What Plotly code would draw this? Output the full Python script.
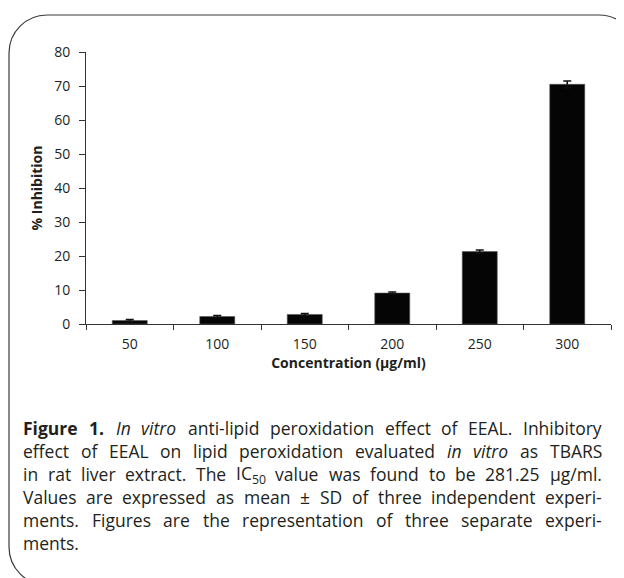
import re
import plotly.graph_objects as go

# ---- data ----
concentrations = ["50", "100", "150", "200", "250", "300"]
inhibition = [1.0, 2.2, 2.8, 9.1, 21.3, 70.5]
sd = [0.3, 0.3, 0.3, 0.3, 0.5, 1.0]
y_ticks = [0, 10, 20, 30, 40, 50, 60, 70, 80]

caption_lines = [
    "<b>Figure</b> <b>1.</b> <i>In</i> <i>vitro</i> anti-lipid peroxidation effect of EEAL. Inhibitory",
    "effect of EEAL on lipid peroxidation evaluated <i>in</i> <i>vitro</i> as TBARS",
    "in rat liver extract. The IC<sub>50</sub> value was found to be 281.25 µg/ml.",
    "Values are expressed as mean ± SD of three independent experi-",
    "ments. Figures are the representation of three separate experi-",
    "ments.",
]

# page body has an 8px margin -> work in figure coordinates (screen - 8)
OFF = 8
W, H = 624 - OFF, 578 - OFF
L, R, T, B = 86 - OFF, 611 - OFF, 52 - OFF, 324 - OFF
FONT = "Open Sans"
CAP_SIZE = 17.5


def px(x):
    return (x - OFF - L) / (R - L)


def py(y):
    return (B - (y - OFF)) / (B - T)


# approximate Open Sans advance widths (units of 1/2048 em)
ADV = {
    " ": 532, "a": 1139, "b": 1255, "c": 975, "d": 1255, "e": 1149, "f": 694,
    "g": 1122, "h": 1257, "i": 518, "j": 518, "k": 1075, "l": 518, "m": 1905,
    "n": 1257, "o": 1237, "p": 1255, "q": 1255, "r": 836, "s": 977, "t": 723,
    "u": 1257, "v": 1026, "w": 1593, "x": 1073, "y": 1028, "z": 977,
    "A": 1296, "B": 1327, "C": 1292, "D": 1493, "E": 1139, "F": 1057,
    "G": 1491, "H": 1511, "I": 571, "J": 547, "K": 1257, "L": 1063,
    "M": 1849, "N": 1544, "O": 1595, "P": 1233, "Q": 1595, "R": 1266,
    "S": 1104, "T": 1118, "U": 1505, "V": 1200, "W": 1864, "X": 1184,
    "Y": 1145, "Z": 1139, ".": 545, ",": 500, "-": 659, "/": 752,
    "±": 1171, "µ": 1266, "(": 608, ")": 608,
}


def plain_width(s, size):
    return sum(ADV.get(ch, 1171) for ch in s) / 2048 * size


def word_width(word, size):
    bold = "<b>" in word
    italic = "<i>" in word
    w = 0.0
    for part in re.split(r"(<sub>.*?</sub>)", word):
        if part.startswith("<sub>"):
            w += plain_width(re.sub(r"<[^>]+>", "", part), size * 0.7)
        else:
            w += plain_width(re.sub(r"<[^>]+>", "", part), size)
    if bold:
        w *= 1.09
    if italic:
        w *= 0.96
    return w


fig = go.Figure()
fig.add_trace(go.Bar(
    x=concentrations, y=inhibition,
    marker=dict(color="#050505", line=dict(color="#555555", width=0.6)),
    error_y=dict(type="data", array=sd, visible=True, color="#111111",
                 thickness=1.5, width=4),
    width=0.4,
))

# rounded frame (screen coordinates)
x0, y0, x1, y1, r = 9, 15, 637, 585, 38
k = 0.5523 * r
pts = [
    f"M {px(x0)},{py(y0 + r)}",
    f"C {px(x0)},{py(y0 + r - k)} {px(x0 + r - k)},{py(y0)} {px(x0 + r)},{py(y0)}",
    f"L {px(x1 - r)},{py(y0)}",
    f"C {px(x1 - r + k)},{py(y0)} {px(x1)},{py(y0 + r - k)} {px(x1)},{py(y0 + r)}",
    f"L {px(x1)},{py(y1 - r)}",
    f"C {px(x1)},{py(y1 - r + k)} {px(x1 - r + k)},{py(y1)} {px(x1 - r)},{py(y1)}",
    f"L {px(x0 + r)},{py(y1)}",
    f"C {px(x0 + r - k)},{py(y1)} {px(x0)},{py(y1 - r + k)} {px(x0)},{py(y1 - r)}",
    "Z",
]
fig.add_shape(type="path", xref="paper", yref="paper", path=" ".join(pts),
              line=dict(color="#3a3a3a", width=1.2), layer="below")

# caption, justified word by word
cap_left, cap_right = 22, 601
line0, dy = 428, 23
space_w = plain_width(" ", CAP_SIZE)
for i, txt in enumerate(caption_lines):
    words = txt.split(" ")
    widths = [word_width(w, CAP_SIZE) for w in words]
    last = i == len(caption_lines) - 1
    if len(words) > 1 and not last:
        gap = (cap_right - cap_left - sum(widths)) / (len(words) - 1)
    else:
        gap = space_w
    xpos = cap_left
    for w, ww in zip(words, widths):
        fig.add_annotation(
            text=w, xref="paper", yref="paper",
            x=px(xpos), y=py(line0 + i * dy), xanchor="left", yanchor="middle",
            showarrow=False, align="left", borderpad=0,
            font=dict(family=FONT, size=CAP_SIZE, color="#231f20"),
        )
        xpos += ww + gap

fig.update_layout(
    width=W, height=H,
    margin=dict(l=L, r=W - R, t=T, b=H - B),
    paper_bgcolor="white", plot_bgcolor="white",
    showlegend=False,
    font=dict(family=FONT, size=14, color="#231f20"),
    bargap=0.6,
)
fig.update_xaxes(
    type="category", showline=True, linecolor="#333333", linewidth=1,
    ticks="outside", ticklen=5, tickcolor="#333333", tickson="boundaries",
    ticklabelstandoff=7, showgrid=False, zeroline=False,
    title=dict(text="<b>Concentration (µg/ml)</b>", standoff=3,
               font=dict(size=14)),
)
fig.update_yaxes(
    range=[0, 80], tickvals=y_ticks, showline=True, linecolor="#333333",
    linewidth=1, ticks="outside", ticklen=6, tickcolor="#333333",
    ticklabelstandoff=6, showgrid=False, zeroline=False,
    title=dict(text="<b>% Inhibition</b>", standoff=8, font=dict(size=14)),
)

fig.write_html("out.html")
